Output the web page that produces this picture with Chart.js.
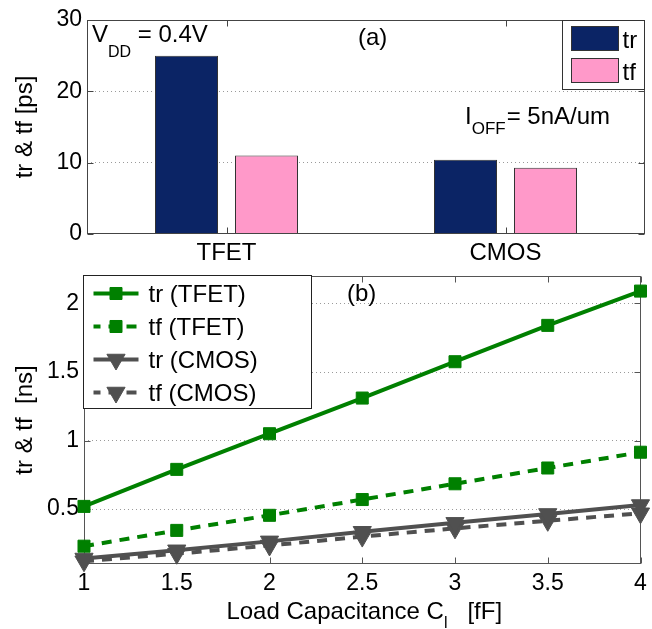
<!DOCTYPE html>
<html><head><meta charset="utf-8">
<script src="https://cdn.jsdelivr.net/npm/chart.js@4.4.1/dist/chart.umd.min.js"></script>
<style>
html,body{margin:0;padding:0;background:#fff;}
#wrap{position:relative;width:652px;height:629px;overflow:hidden;background:#fff;}
canvas{position:absolute;left:0;}
#ca{top:0;}
#cb{top:262px;}
</style></head><body>
<div id="wrap"><canvas id="ca" width="652" height="262"></canvas><canvas id="cb" width="652" height="367"></canvas></div>
<script>
// ---- data (a) ----
const devices = ['TFET', 'CMOS'];
const riseTimePs = [25.0, 10.4];
const fallTimePs = [11.0, 9.3];
const barYTicks = [0, 10, 20, 30];
// ---- data (b) ----
const loadCap = [1, 1.5, 2, 2.5, 3, 3.5, 4];
const trTFET = [0.52, 0.79, 1.05, 1.31, 1.575, 1.84, 2.09];
const tfTFET = [0.23, 0.345, 0.455, 0.57, 0.685, 0.80, 0.915];
const trCMOS = [0.14, 0.20, 0.265, 0.335, 0.40, 0.465, 0.53];
const tfCMOS = [0.12, 0.175, 0.235, 0.30, 0.36, 0.415, 0.47];
const lineYTicks = [0.5, 1, 1.5, 2];

const FAMILY = "'Liberation Sans', Arial, Helvetica, sans-serif";
const FS = 23;   // tick labels
const FT = 24;   // titles, legends, notes
Chart.defaults.font.family = FAMILY;
Chart.defaults.color = '#000';

function flowText(ctx, x, y, runs) {
  for (const [t, s, dy] of runs) {
    ctx.font = s + 'px ' + FAMILY;
    ctx.fillText(t, x, y + dy);
    x += ctx.measureText(t).width;
  }
  return x;
}
function runsWidth(ctx, runs) {
  let w = 0;
  for (const [t, s] of runs) { ctx.font = s + 'px ' + FAMILY; w += ctx.measureText(t).width; }
  return w;
}
function drawMarker(ctx, style, radius, rotation, x, y) {
  if (Chart.helpers && Chart.helpers.drawPoint) {
    Chart.helpers.drawPoint(ctx, {pointStyle: style, radius: radius, rotation: rotation, borderWidth: 1}, x, y);
    return;
  }
  ctx.beginPath();
  if (style === 'rect') {
    const s = radius * Math.SQRT1_2;
    ctx.rect(x - s, y - s, 2 * s, 2 * s);
  } else {
    ctx.moveTo(x, y + radius);
    ctx.lineTo(x - radius * 0.866, y - radius / 2);
    ctx.lineTo(x + radius * 0.866, y - radius / 2);
    ctx.closePath();
  }
  ctx.fill(); ctx.stroke();
}
function drawFrame(chart, tickLen, color) {
  const {ctx, chartArea: a, scales} = chart;
  const L = Math.round(a.left) + 0.5, R = Math.round(a.right) - 0.5;
  const T = Math.round(a.top) + 0.5, B = Math.round(a.bottom) - 0.5;
  ctx.save();
  ctx.setLineDash([]);
  ctx.strokeStyle = color; ctx.lineWidth = 1;
  ctx.strokeRect(L, T, R - L, B - T);
  ctx.beginPath();
  scales.y.ticks.forEach(t => {
    const py = Math.round(scales.y.getPixelForValue(t.value)) + 0.5;
    ctx.moveTo(L, py); ctx.lineTo(L + tickLen, py);
    ctx.moveTo(R, py); ctx.lineTo(R - tickLen, py);
  });
  scales.x.ticks.forEach((t, i) => {
    const px = Math.round(scales.x.getPixelForTick(i)) + 0.5;
    ctx.moveTo(px, B); ctx.lineTo(px, B - tickLen);
    ctx.moveTo(px, T); ctx.lineTo(px, T + tickLen);
  });
  ctx.stroke();
  ctx.restore();
}
const gridColor = ctx => {
  const s = ctx.scale;
  if (!ctx.tick) return 'rgba(0,0,0,0)';
  const v = ctx.tick.value;
  return (v > s.min + 1e-9 && v < s.max - 1e-9) ? '#9a9a9a' : 'rgba(0,0,0,0)';
};
const tickFont = {size: FS, family: FAMILY};
const titleFont = {size: FT, family: FAMILY};
const plainNum = v => String(Math.round(v * 100) / 100);

// ---------------- Chart (a) ----------------
const pluginA = {
  id: 'decorA',
  afterDatasetsDraw(chart) { drawFrame(chart, 6, '#444'); },
  afterDraw(chart) {
    const {ctx, chartArea: a} = chart;
    ctx.save();
    ctx.fillStyle = '#000';
    ctx.textBaseline = 'alphabetic';
    flowText(ctx, 92, 42, [['V', FT, 0], ['DD', 16, 15], [' = 0.4V', FT, 0]]);
    flowText(ctx, 358, 45, [['(a)', FT, 0]]);
    let x = flowText(ctx, 465, 124, [['I', FT, 0], ['OFF', 17, 10]]);
    flowText(ctx, x + 1, 124, [['= 5nA/um', FT, 0]]);
    // legend
    const bw = 82, bh = 69;
    const bx = Math.round(a.right) - bw - 0.5, by = Math.round(a.top) + 0.5;
    ctx.fillStyle = '#fff';
    ctx.fillRect(bx, by, bw, bh);
    ctx.strokeStyle = '#333'; ctx.lineWidth = 1;
    ctx.strokeRect(bx, by, bw, bh);
    chart.data.datasets.forEach((ds, i) => {
      const sy = by + 6 + i * 32;
      ctx.fillStyle = ds.backgroundColor;
      ctx.fillRect(bx + 9, sy, 47, 24);
      ctx.strokeStyle = '#333';
      ctx.strokeRect(bx + 9, sy, 47, 24);
      ctx.fillStyle = '#000';
      ctx.font = FT + 'px ' + FAMILY;
      ctx.fillText(ds.label, bx + 60, sy + 21);
    });
    ctx.restore();
  }
};
new Chart(document.getElementById('ca'), {
  type: 'bar',
  data: {
    labels: devices,
    datasets: [
      {label: 'tr', data: riseTimePs, backgroundColor: '#0b2465', borderColor: '#333', borderWidth: 1},
      {label: 'tf', data: fallTimePs, backgroundColor: '#ff99c9', borderColor: '#333', borderWidth: 1}
    ]
  },
  options: {
    responsive: false, animation: false, events: [],
    categoryPercentage: 0.5735, barPercentage: 0.7875,
    layout: {padding: {left: 0, right: 7, top: 20, bottom: 0}},
    plugins: {legend: {display: false}, tooltip: {enabled: false}},
    scales: {
      x: {
        type: 'category', offset: true,
        grid: {display: false, drawTicks: false}, border: {display: false},
        ticks: {font: titleFont, color: '#000', padding: 5, maxRotation: 0},
        afterFit: s => { s.height = 28; s.paddingLeft = 0; s.paddingRight = 0; }
      },
      y: {
        min: 0, max: 30,
        afterBuildTicks: s => { s.ticks = barYTicks.map(v => ({value: v})); },
        ticks: {font: tickFont, color: '#000', padding: 5, callback: plainNum},
        grid: {drawTicks: false, color: gridColor, lineWidth: 1},
        border: {display: false, dash: [1, 3]},
        title: {display: true, text: 'tr & tf [ps]', font: titleFont, color: '#000', padding: {top: 11, bottom: 0}},
        afterFit: s => { s.width = 87; s.paddingTop = 0; s.paddingBottom = 0; }
      }
    }
  },
  plugins: [pluginA]
});

// ---------------- Chart (b) ----------------
const GREEN = '#008000', GRAY = '#505050';
function series(vals) { return loadCap.map((x, i) => ({x: x, y: vals[i]})); }
const pluginB = {
  id: 'decorB',
  beforeDatasetsDraw(chart) { drawFrame(chart, 6, '#555'); },
  afterDraw(chart) {
    const {ctx, chartArea: a} = chart;
    ctx.save();
    ctx.fillStyle = '#000';
    ctx.textBaseline = 'alphabetic';
    flowText(ctx, 347, 39, [['(b)', FT, 0]]);
    // x title with subscript
    const runs = [['Load Capacitance C', FT, 0], ['l', 16, 9], ['   [fF]', FT, 0]];
    const w = runsWidth(ctx, runs);
    flowText(ctx, (a.left + a.right) / 2 - w / 2 + 2, 357, runs);
    // legend
    const bx = Math.round(a.left) - 0.5, by = Math.round(a.top) - 0.5;
    const bw = 228, bh = 133;
    ctx.fillStyle = '#fff';
    ctx.fillRect(bx, by, bw, bh);
    ctx.strokeStyle = '#222'; ctx.lineWidth = 1;
    ctx.strokeRect(bx, by, bw, bh);
    chart.data.datasets.forEach((ds, i) => {
      const y = by + 18 + i * 33;
      ctx.strokeStyle = ds.borderColor;
      ctx.lineWidth = ds.borderWidth;
      ctx.setLineDash(ds.borderDash || []);
      ctx.lineDashOffset = ds.borderDash ? 3 : 0;
      ctx.beginPath(); ctx.moveTo(bx + 10, y); ctx.lineTo(bx + 55, y); ctx.stroke();
      ctx.setLineDash([]);
      ctx.lineWidth = 1;
      ctx.fillStyle = ds.pointBackgroundColor;
      ctx.strokeStyle = ds.pointBorderColor;
      drawMarker(ctx, ds.pointStyle, ds.pointRadius, ds.pointRotation || 0, bx + 32.5, y);
      ctx.fillStyle = '#000';
      ctx.font = FT + 'px ' + FAMILY;
      ctx.fillText(ds.label, bx + 65, y + 8.5);
    });
    ctx.restore();
  }
};
function lineDs(label, vals, color, dashed, style, radius, rot) {
  return {
    label: label, data: series(vals),
    borderColor: color, backgroundColor: color, borderWidth: 4,
    borderDash: dashed ? [10, 8] : undefined,
    pointStyle: style, pointRadius: radius, pointRotation: rot,
    pointBackgroundColor: color, pointBorderColor: color, pointBorderWidth: 1,
    tension: 0, clip: false, fill: false
  };
}
new Chart(document.getElementById('cb'), {
  type: 'line',
  data: {
    datasets: [
      lineDs('tr (TFET)', trTFET, GREEN, false, 'rect', 8.5, 0),
      lineDs('tf (TFET)', tfTFET, GREEN, true, 'rect', 8.5, 0),
      lineDs('tr (CMOS)', trCMOS, GRAY, false, 'triangle', 10.5, 180),
      lineDs('tf (CMOS)', tfCMOS, GRAY, true, 'triangle', 10.5, 180)
    ]
  },
  options: {
    responsive: false, animation: false, events: [],
    layout: {padding: {left: 0, right: 7, top: 14, bottom: 0}},
    plugins: {legend: {display: false}, tooltip: {enabled: false}},
    scales: {
      x: {
        type: 'linear', min: 1, max: 4,
        afterBuildTicks: s => { s.ticks = loadCap.map(v => ({value: v})); },
        grid: {display: false, drawTicks: false}, border: {display: false},
        ticks: {font: tickFont, color: '#000', padding: 6, maxRotation: 0, callback: plainNum},
        afterFit: s => { s.height = 65; s.paddingLeft = 0; s.paddingRight = 0; }
      },
      y: {
        min: 0.1, max: 2.2,
        afterBuildTicks: s => { s.ticks = lineYTicks.map(v => ({value: v})); },
        ticks: {font: tickFont, color: '#000', padding: 5, callback: plainNum},
        grid: {drawTicks: false, color: gridColor, lineWidth: 1},
        border: {display: false, dash: [1, 3]},
        title: {display: true, text: 'tr & tf  [ns]', font: titleFont, color: '#000', padding: {top: 11, bottom: 0}},
        afterFit: s => { s.width = 84; s.paddingTop = 0; s.paddingBottom = 0; }
      }
    }
  },
  plugins: [pluginB]
});
</script>
</body></html>
